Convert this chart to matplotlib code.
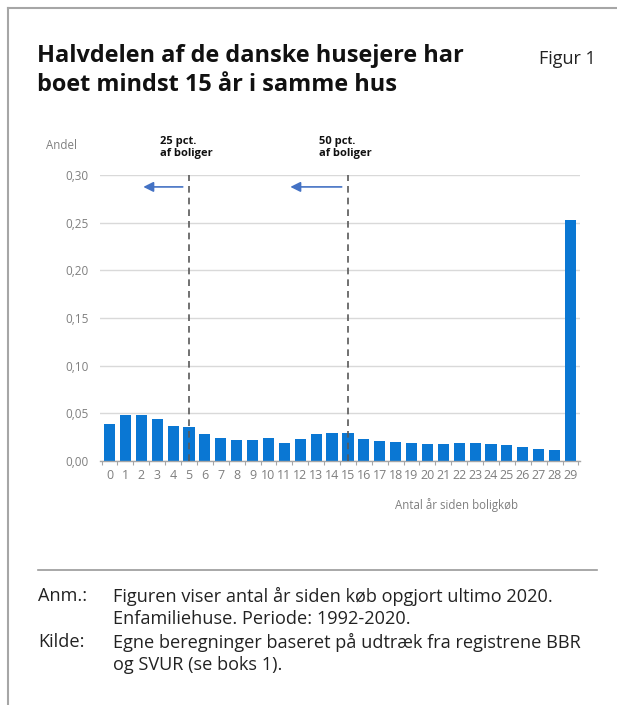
import matplotlib
matplotlib.use("Agg")
import matplotlib.pyplot as plt
from matplotlib.lines import Line2D
import numpy as np

plt.rcParams['font.family'] = ['Open Sans', 'DejaVu Sans']

years = list(range(30))
andel = [0.039, 0.0485, 0.048, 0.044, 0.037, 0.0356, 0.028, 0.0243, 0.0225, 0.0218,
         0.0243, 0.0194, 0.0232, 0.028, 0.0289, 0.0295, 0.023, 0.0215, 0.0197, 0.019,
         0.0183, 0.0183, 0.019, 0.019, 0.0176, 0.0166, 0.0148, 0.013, 0.012, 0.2528]
yticks = [0.0, 0.05, 0.10, 0.15, 0.20, 0.25, 0.30]
ytick_labels = ["0,00", "0,05", "0,10", "0,15", "0,20", "0,25", "0,30"]
markers = [5, 15]
marker_labels = ["25 pct.\naf boliger", "50 pct.\naf boliger"]
arrow_heads = [1.95, 11.2]

W, H = 617, 705
fig = plt.figure(figsize=(W/100, H/100), dpi=100)

def fx(px): return px / W
def fy(py): return 1 - py / H

# frame
fig.add_artist(Line2D([fx(8), fx(8)], [fy(8), 0], color='#A6A6A6', lw=1.5))
fig.add_artist(Line2D([fx(8), 1], [fy(8), fy(8)], color='#A6A6A6', lw=1.5))
fig.add_artist(Line2D([fx(38), fx(597)], [fy(570), fy(570)], color='#9A9A9A', lw=1.2))

fig.text(fx(37), fy(44), "Halvdelen af de danske husejere har\nboet mindst 15 år i samme hus",
         fontsize=16.9, fontweight='bold', va='top', ha='left', linespacing=1.3, color='#111111')
fig.text(fx(596), fy(59), "Figur 1", fontsize=13, ha='right', va='center', color='#222222')

foot_y = [596, 619, 642, 665]
fs = 13.1
fig.text(fx(38), fy(foot_y[0]), "Anm.:", fontsize=fs, va='center', color='#222222')
fig.text(fx(113), fy(foot_y[0]), "Figuren viser antal år siden køb opgjort ultimo 2020.", fontsize=fs, va='center', color='#222222')
fig.text(fx(113), fy(foot_y[1]), "Enfamiliehuse. Periode: 1992-2020.", fontsize=fs, va='center', color='#222222')
fig.text(fx(38), fy(foot_y[2]), "Kilde:", fontsize=fs, va='center', color='#222222')
fig.text(fx(113), fy(foot_y[2]), "Egne beregninger baseret på udtræk fra registrene BBR", fontsize=fs, va='center', color='#222222')
fig.text(fx(113), fy(foot_y[3]), "og SVUR (se boks 1).", fontsize=fs, va='center', color='#222222')

ax = fig.add_axes([fx(100), fy(461), fx(580) - fx(100), fy(175) - fy(461)])
ax.bar(years, andel, width=0.7, color='#0A77D3', zorder=3)
ax.set_xlim(-0.6, 29.6)
ax.set_ylim(0, 0.30)
ax.set_yticks(yticks)
ax.set_yticklabels(ytick_labels)
ax.set_xticks(years)
ax.set_xticklabels([str(y) for y in years])
ax.set_xticks(np.arange(-0.5, 30, 1), minor=True)
ax.tick_params(axis='x', which='major', length=0, pad=6, labelsize=9, labelcolor='#7F7F7F')
ax.tick_params(axis='x', which='minor', length=3, color='#A6A6A6', width=0.8)
ax.tick_params(axis='y', length=0, pad=8, labelsize=8.5, labelcolor='#7F7F7F')
for s in ['top', 'right', 'left']:
    ax.spines[s].set_visible(False)
ax.spines['bottom'].set_color('#A6A6A6')
ax.spines['bottom'].set_linewidth(1)
ax.spines['bottom'].set_zorder(4)
ax.grid(axis='y', color='#D9D9D9', lw=1, zorder=0)
ax.set_axisbelow(True)

for m, lab, head in zip(markers, marker_labels, arrow_heads):
    ax.axvline(m, ymin=0, ymax=1, color='#595959', lw=1.2, ls=(0, (4, 3)), zorder=5, clip_on=False)
    ax.text(m - 1.8, 0.317, lab, fontsize=8, fontweight='bold', ha='left', va='bottom',
            linespacing=1.05, color='#111111')
    ax.annotate("", xy=(head, 0.2875), xytext=(m - 0.22, 0.2875),
                arrowprops=dict(arrowstyle='-|>', color='#4472C4', lw=1.2, mutation_scale=15))

ax.text(-4.0, 0.331, "Andel", fontsize=8.3, color='#7F7F7F', ha='left', va='center')
ax.text(21.8, -0.046, "Antal år siden boligkøb", fontsize=8.3, color='#7F7F7F', ha='center', va='center')

fig.savefig("out.png", dpi=100)
